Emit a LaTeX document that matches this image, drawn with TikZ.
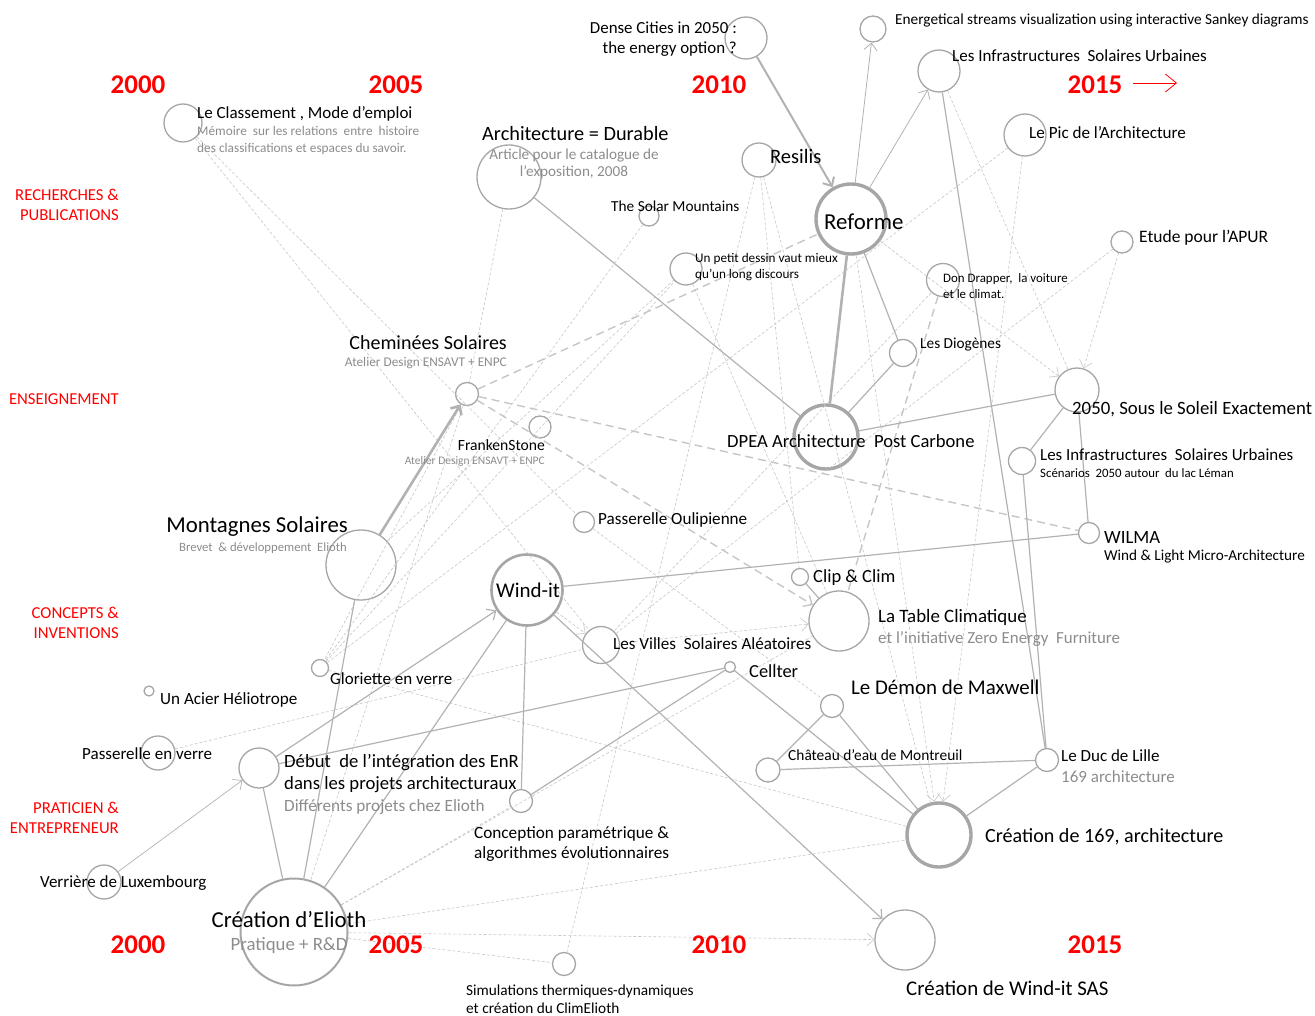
\documentclass[tikz,border=0pt]{standalone}
\usepackage{fontspec}
\setmainfont{Carlito}
\usetikzlibrary{arrows.meta}
\definecolor{cg}{HTML}{A6A6A6}
\definecolor{lg}{HTML}{B2B2B2}
\definecolor{dg}{HTML}{C6C6C6}
\definecolor{sg}{HTML}{8C8C8C}
\definecolor{rd}{HTML}{FF0000}
\newcommand{\fz}[2]{\fontsize{#1pt}{#2pt}\selectfont}
\begin{document}
\begin{tikzpicture}[x=1pt,y=-1pt,
  circ/.style={circle, draw=cg, line width=1.3pt, inner sep=0pt},
  bigcirc/.style={circle, draw=cg, line width=3.4pt, inner sep=0pt},
  tx/.style={inner sep=0pt, anchor=west, align=left},
  txe/.style={inner sep=0pt, anchor=east, align=right},
  yr/.style={inner sep=0pt, text=rd, font=\fz{27}{32}\bfseries},
  cat/.style={inner sep=0pt, anchor=east, align=right, text=rd, font=\fz{16.7}{20}},
  sl/.style={draw=lg, line width=1.2pt},
  dl/.style={draw=dg, line width=0.6pt, dash pattern=on 3pt off 2pt},
  dlt/.style={draw=dg, line width=1.4pt, dash pattern=on 8pt off 5pt},
  arr/.style={-{Straight Barb[length=7pt,width=13pt]}}
]
\useasboundingbox (0,0) rectangle (1315,1016);

% ---- circles
\node[circ, minimum size=38pt] (cClass) at (183,123) {};
\node[circ, minimum size=42pt] (cDense) at (746,38) {};
\node[circ, minimum size=26pt] (cEnerg) at (873,29) {};
\node[circ, minimum size=42pt] (cLISt) at (939,71) {};
\node[circ, minimum size=42pt] (cPic) at (1025,135) {};
\node[circ, minimum size=64pt] (cArch) at (509,177) {};
\node[circ, minimum size=34pt] (cResilis) at (759,160) {};
\node[bigcirc, minimum size=70pt] (cReforme) at (851,219) {};
\node[circ, minimum size=20pt] (cSolar) at (649,216) {};
\node[circ, minimum size=32pt] (cPetit) at (686,269) {};
\node[circ, minimum size=22pt] (cAPUR) at (1122,242) {};
\node[circ, minimum size=33pt] (cDon) at (943,280) {};
\node[circ, minimum size=27pt] (cDiog) at (903,353) {};
\node[circ, minimum size=23pt] (cChem) at (467,394) {};
\node[circ, minimum size=22pt] (cFrank) at (540,427) {};
\node[bigcirc, minimum size=64pt] (cDPEA) at (826,437) {};
\node[circ, minimum size=44pt] (c2050) at (1077,390) {};
\node[circ, minimum size=27pt] (cLISs) at (1022,461) {};
\node[circ, minimum size=21pt] (cWILMA) at (1089,533) {};
\node[circ, minimum size=21pt] (cPassO) at (584,522) {};
\node[circ, minimum size=70pt] (cMont) at (361,565) {};
\node[circ, line width=2.6pt, minimum size=71pt] (cWind) at (527,590) {};
\node[circ, minimum size=17pt] (cClip) at (800,577) {};
\node[circ, minimum size=60pt] (cTable) at (839,621) {};
\node[circ, minimum size=37pt] (cVilles) at (601,645) {};
\node[circ, minimum size=17pt] (cGlor) at (320,668) {};
\node[circ, minimum size=11pt] (cCellter) at (730,667) {};
\node[circ, minimum size=10pt] (cAcier) at (149,691) {};
\node[circ, minimum size=23pt] (cMax) at (832,706) {};
\node[circ, minimum size=34pt] (cPassV) at (158,753) {};
\node[circ, minimum size=40pt] (cDebut) at (259,768) {};
\node[circ, minimum size=24pt] (cChat) at (768,770) {};
\node[circ, minimum size=23pt] (cDuc) at (1047,760) {};
\node[circ, minimum size=23pt] (cConc) at (521,801) {};
\node[bigcirc, minimum size=64pt] (c169) at (939,835) {};
\node[circ, minimum size=34pt] (cVerr) at (104,882) {};
\node[circ, line width=2pt, minimum size=107pt] (cElioth) at (294,932) {};
\node[circ, minimum size=23pt] (cSimul) at (564,964) {};
\node[circ, minimum size=60pt] (cWSAS) at (905,940) {};

% ---- thin dashed connectors
\draw[dl] (cClass) -- (cPassO);
\draw[dl] (cClass) -- (cVilles);
\draw[dl] (cArch) -- (cChem);
\draw[dl] (cChem) -- (cElioth);
\draw[dl] (cSolar) -- (cGlor);
\draw[dl] (cResilis) -- (cSimul);
\draw[dl] (cResilis) -- (cClip);
\draw[dl] (cResilis) -- (c169);
\draw[dl] (cPetit) -- (cTable);
\draw[dl] (cPic) -- (cGlor);
\draw[dl,arr] (cPic) -- (c169);
\draw[dl,arr] (cReforme) -- (c169);
\draw[dl,arr] (cReforme) -- (c2050);
\draw[dl,arr] (cAPUR) -- (c2050);
\draw[dl] (cAPUR) -- (cVilles);
\draw[dl] (cLISt) -- (c2050);
\draw[dl] (cGlor) -- (cPetit);
\draw[dl] (cChem) -- (cGlor);
\draw[dl] (cPassV) -- (cVilles);
\draw[dl] (cGlor) -- (c169);
\draw[dl] (cElioth) -- (c169);
\draw[dl,arr] (cElioth) -- (cWSAS);
\draw[dl] (cElioth) -- (cSimul);
\draw[dl] (cElioth) -- (cConc);
\draw[dl] (cElioth) -- (cTable);
\draw[dl,arr] (cWind) -- (cVilles);
\draw[dl,arr] (cVilles) -- (cTable);
\draw[dl] (cPassO) -- (cMax);
\draw[dl] (cMont) -- (cPetit);
\draw[dl] (cCellter) -- (c169);
\draw[dl] (cDon) -- (cVilles);

% ---- thick dashed connectors
\draw[dlt] (cChem) -- (cReforme);
\draw[dlt] (cChem) -- (cWILMA);
\draw[dlt,arr] (cChem) -- (cTable);
\draw[dlt] (cDon) -- (cTable);

% ---- solid connectors
\draw[sl, line width=2pt, arr] (cDense) -- (cReforme);
\draw[sl, line width=0.8pt, arr] (cReforme) -- (cEnerg);
\draw[sl, line width=0.8pt, arr] (cReforme) -- (cLISt);
\draw[sl, line width=2.6pt] (cReforme) -- (cDPEA);
\draw[sl] (cReforme) -- (cDiog);
\draw[sl] (cDiog) -- (cDPEA);
\draw[sl] (cDPEA) -- (c2050);
\draw[sl] (cArch) -- (cDPEA);
\draw[sl] (cLISt) -- (cDuc);
\draw[sl] (cLISs) -- (cDuc);
\draw[sl] (c2050) -- (cLISs);
\draw[sl] (c2050) -- (cWILMA);
\draw[sl] (cWind) -- (cWILMA);
\draw[sl, arr] (cWind) -- (cWSAS);
\draw[sl] (cWind) -- (cConc);
\draw[sl] (cElioth) -- (cWind);
\draw[sl, arr] (cDebut) -- (cWind);
\draw[sl] (cDebut) -- (cCellter);
\draw[sl] (cConc) -- (cCellter);
\draw[sl] (cCellter) -- (c169);
\draw[sl] (cMax) -- (c169);
\draw[sl] (cMax) -- (cChat);
\draw[sl] (cChat) -- (cDuc);
\draw[sl] (cDuc) -- (c169);
\draw[sl] (cClip) -- (cTable);
\draw[sl] (cDebut) -- (cElioth);
\draw[sl, line width=0.7pt, arr] (cVerr) -- (cDebut);
\draw[sl, line width=2.6pt, arr] (cMont) -- (cChem);
\draw[sl] (cElioth) -- (cMont);

% ---- years
\node[yr] (y00a) at (138,85) {2000};
\node[yr] (y05a) at (396,85) {2005};
\node[yr] (y10a) at (719,85) {2010};
\node[yr] (y15a) at (1095,85) {2015};
\node[yr] (y00b) at (138,945) {2000};
\node[yr] (y05b) at (396,945) {2005};
\node[yr] (y10b) at (719,945) {2010};
\node[yr] (y15b) at (1095,945) {2015};
\coordinate (ra) at (1133,83);
\coordinate (rb) at (1177,83);
\draw[rd, line width=0.8pt, -{Straight Barb[length=11pt,width=18pt]}] (ra) -- (rb);

% ---- categories
\node[cat] (kRech) at (119,205) {RECHERCHES \&\\PUBLICATIONS};
\node[cat] (kEns) at (119,399) {ENSEIGNEMENT};
\node[cat] (kConc) at (119,623) {CONCEPTS \&\\INVENTIONS};
\node[cat] (kPrat) at (119,818) {PRATICIEN \&\\ENTREPRENEUR};

% ---- labels
\node[txe, font=\fz{16.9}{20}] (tDense) at (737,39) {Dense Cities in 2050 :\\the energy option ?};
\node[tx, font=\fz{15.3}{18}] (tEnerg) at (895,21) {Energetical streams visualization using interactive Sankey diagrams};
\node[tx, font=\fz{17}{20}] (tLISt) at (952,56) {Les Infrastructures~ Solaires Urbaines};
\node[tx, font=\fz{17.1}{20}] (tPic) at (1029,133) {Le Pic de l’Architecture};
\node[tx, font=\fz{17}{20}] (tClass) at (197,114) {Le Classement , Mode d’emploi};
\node[tx, font=\fz{13.3}{17}, text=sg] (tClassS) at (197,140) {Mémoire~ sur les relations~ entre~ histoire\\des classifications et espaces du savoir.};
\node[tx, font=\fz{20.3}{24}] (tArch) at (482,134) {Architecture = Durable};
\node[inner sep=0pt, align=center, font=\fz{15.2}{16.5}, text=sg] (tArchS) at (574,164) {Article pour le catalogue de\\l’exposition, 2008};
\node[tx, font=\fz{20.5}{24}] (tResilis) at (770,156) {Resilis};
\node[tx, font=\fz{15.3}{18}] (tSolar) at (611,206) {The Solar Mountains};
\node[tx, font=\fz{22.8}{26}] (tReforme) at (824,222) {Reforme};
\node[tx, font=\fz{13.2}{16}] (tPetit) at (695,267) {Un petit dessin vaut mieux\\qu’un long discours};
\node[tx, font=\fz{17.5}{20}] (tAPUR) at (1139,238) {Etude pour l’APUR};
\node[tx, font=\fz{12.9}{16}] (tDon) at (943,286) {Don Drapper,~ la voiture\\et le climat.};
\node[tx, font=\fz{15.3}{18}] (tDiog) at (920,345) {Les Diogènes};
\node[txe, font=\fz{20}{24}] (tChem) at (507,343) {Cheminées Solaires};
\node[txe, font=\fz{13.3}{15}, text=sg] (tChemS) at (507,363) {Atelier Design ENSAVT + ENPC};
\node[txe, font=\fz{15.6}{18}] (tFrank) at (545,445) {FrankenStone};
\node[txe, font=\fz{11.5}{13}, text=sg] (tFrankS) at (545,461) {Atelier Design ENSAVT + ENPC};
\node[tx, font=\fz{18.6}{22}] (tDPEA) at (727,441) {DPEA Architecture~ Post Carbone};
\node[tx, font=\fz{18.8}{22}] (t2050) at (1072,409) {2050, Sous le Soleil Exactement};
\node[tx, font=\fz{16.9}{20}] (tLISs) at (1040,455) {Les Infrastructures~ Solaires Urbaines};
\node[tx, font=\fz{12.8}{15}] (tLISsS) at (1040,473) {Scénarios~ 2050 autour~ du lac Léman};
\node[tx, font=\fz{18.7}{22}] (tWILMA) at (1104,537) {WILMA};
\node[tx, font=\fz{15.2}{18}] (tWILMAS) at (1104,557) {Wind \& Light Micro-Architecture};
\node[txe, font=\fz{22.8}{26}] (tMont) at (348,527) {Montagnes Solaires};
\node[txe, font=\fz{12.7}{15}, text=sg] (tMontS) at (347,548) {Brevet~ \& développement~ Elioth};
\node[tx, font=\fz{17.1}{20}] (tPassO) at (598,520) {Passerelle Oulipienne};
\node[inner sep=0pt, font=\fz{21}{25}] (tWind) at (528,590) {Wind-it};
\node[tx, font=\fz{18.5}{22}] (tClip) at (813,578) {Clip \& Clim};
\node[tx, font=\fz{18.9}{22}] (tTable) at (878,617) {La Table Climatique};
\node[tx, font=\fz{16.9}{20}, text=sg] (tTableS) at (878,639) {et l’initiative Zero Energy~ Furniture};
\node[tx, font=\fz{17.1}{20}] (tVilles) at (613,644) {Les Villes~ Solaires Aléatoires};
\node[tx, font=\fz{17}{20}] (tGlor) at (330,679) {Gloriette en verre};
\node[tx, font=\fz{18.4}{22}] (tCellter) at (749,671) {Cellter};
\node[tx, font=\fz{17.1}{20}] (tAcier) at (160,700) {Un Acier Héliotrope};
\node[tx, font=\fz{20.9}{24}] (tMax) at (851,687) {Le Démon de Maxwell};
\node[tx, font=\fz{17}{20}] (tPassV) at (82,754) {Passerelle en verre};
\node[tx, font=\fz{18.7}{22}] (tDebut) at (284,774) {Début~ de l’intégration des EnR\\dans les projets architecturaux};
\node[tx, font=\fz{17.2}{20}, text=sg] (tDebutS) at (284,807) {Différents projets chez Elioth};
\node[tx, font=\fz{15.4}{18}] (tChat) at (788,755) {Château d’eau de Montreuil};
\node[tx, font=\fz{17}{20}] (tDuc) at (1061,756) {Le Duc de Lille};
\node[tx, font=\fz{17}{20}, text=sg] (tDucS) at (1061,777) {169 architecture};
\node[tx, font=\fz{17.2}{20}] (tConc) at (474,844) {Conception paramétrique \&\\algorithmes évolutionnaires};
\node[tx, font=\fz{20.1}{24}] (t169) at (985,837) {Création de 169, architecture};
\node[tx, font=\fz{17}{20}] (tVerr) at (40,883) {Verrière de Luxembourg};
\node[inner sep=0pt, font=\fz{22.8}{26}] (tElioth) at (289,920) {Création d’Elioth};
\node[inner sep=0pt, font=\fz{18.8}{22}, text=sg] (tEliothS) at (289,946) {Pratique + R\&D};
\node[tx, font=\fz{15.3}{18}] (tSimul) at (466,999) {Simulations thermiques-dynamiques\\et création du ClimElioth};
\node[tx, font=\fz{20.9}{24}] (tWSAS) at (906,988) {Création de Wind-it SAS};
\end{tikzpicture}
\end{document}
